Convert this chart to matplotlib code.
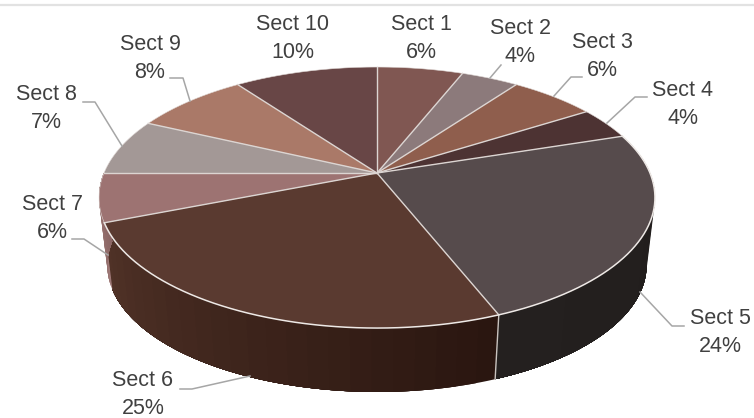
import numpy as np
import matplotlib
matplotlib.use("Agg")
import matplotlib.pyplot as plt
from matplotlib.colors import to_rgb

plt.rcParams['font.family'] = ['Liberation Sans', 'DejaVu Sans']

# chart data, clockwise from 12 o'clock
sectors = ['Sect 1', 'Sect 2', 'Sect 3', 'Sect 4', 'Sect 5',
           'Sect 6', 'Sect 7', 'Sect 8', 'Sect 9', 'Sect 10']
percent = [6, 4, 6, 4, 24, 25, 6, 7, 8, 10]
top_colors = ['#805752', '#8c7a7b', '#8f5e4d', '#4d3333', '#564b4c',
              '#5a3a30', '#9d7372', '#a39896', '#aa7968', '#684646']

# side wall colour per sector, start and end of the sweep
wall_start = {'Sect 5': '#211d1c', 'Sect 6': '#2a1610', 'Sect 7': '#a07a78'}
wall_end = {'Sect 5': '#24201f', 'Sect 6': '#503227', 'Sect 7': '#8a6664'}

# label centres and leader lines (pixels)
label_pos = [(421, 24), (520, 28), (602, 42), (683, 90), (720, 318),
             (143, 380), (52, 204), (46, 95), (150, 44), (293, 24)]
leaders = [None,
           [(501, 65), (490, 78)],
           [(582, 77), (571, 77), (554, 96)],
           [(647, 97), (635, 97), (607, 123)],
           [(684, 326), (672, 326), (640, 292)],
           [(180, 389), (192, 389), (250, 376)],
           [(72, 239), (84, 239), (108, 255)],
           [(83, 102), (95, 102), (122, 146)],
           [(170, 78), (183, 78), (190, 101)],
           None]

# perspective of the pie disc
cx, cy = 377, 173
rx, ry, persp = 273, 125.9, 0.188
wall_scale, wall_cy = 0.97, 241.6


def top_ring(deg):
    t = np.radians(deg)
    d = 1 + persp * np.cos(t)
    return cx + rx * np.sin(t) / d, cy - ry * np.cos(t) / d


def bottom_ring(deg):
    t = np.radians(deg)
    d = 1 + persp * np.cos(t)
    return cx + wall_scale * rx * np.sin(t) / d, wall_cy - wall_scale * ry * np.cos(t) / d


fig = plt.figure(figsize=(7.54, 4.18), dpi=100)
ax = fig.add_axes([0, 0, 1, 1])
ax.set_xlim(0, 754)
ax.set_ylim(418, 0)
ax.axis('off')

# thin rule at the top of the picture
ax.plot([0, 754], [5, 5], color='#e2e2e2', lw=1.6)

edges = np.cumsum([0] + percent) * 3.6

# side wall, each strip runs on to the sector end so no seams show
for i, name in enumerate(sectors):
    if name not in wall_start:
        continue
    c0 = np.array(to_rgb(wall_start[name]))
    c1 = np.array(to_rgb(wall_end[name]))
    angles = np.linspace(edges[i], edges[i + 1], 25)
    for j in range(len(angles) - 1):
        a = np.linspace(angles[j], edges[i + 1], 60)
        xt, yt = top_ring(a)
        xb, yb = bottom_ring(a)
        col = c0 + (c1 - c0) * j / (len(angles) - 2)
        ax.fill(np.r_[xt, xb[::-1]], np.r_[yt, yb[::-1]],
                facecolor=col, edgecolor='none', zorder=2)

# seam on the wall between sect 5 and sect 6
xt, yt = top_ring(edges[5])
xb, yb = bottom_ring(edges[5])
ax.plot([xt, xb], [yt, yb], color='#c9c3bf', lw=1, zorder=3)

# top face
for i, name in enumerate(sectors):
    a = np.linspace(edges[i], edges[i + 1], 80)
    x, y = top_ring(a)
    ax.fill(np.r_[cx, x], np.r_[cy, y], facecolor=top_colors[i],
            edgecolor='none', zorder=4)

for e in edges[:-1]:
    x, y = top_ring(e)
    ax.plot([cx, x], [cy, y], color='#dcd5d2', lw=1, zorder=5)

# light rim round the disc, stronger along the front
a = np.linspace(edges[4], edges[6], 300)
ax.plot(*top_ring(a), color='#eee9e6', lw=1.1, zorder=5)
a = np.linspace(edges[6], 360 + edges[4], 400)
ax.plot(*top_ring(a), color='#e0d9d6', lw=0.4, zorder=5)

# labels with leader lines
for i, name in enumerate(sectors):
    lx, ly = label_pos[i]
    ax.text(lx, ly, name, ha='center', va='center', fontsize=15.5, color='#404040', zorder=6)
    ax.text(lx, ly + 28, f'{percent[i]}%', ha='center', va='center', fontsize=15.5,
            color='#404040', zorder=6)
    if leaders[i] is not None:
        ax.plot(*zip(*leaders[i]), color='#a6a6a6', lw=1.1, zorder=6)

fig.savefig('out.png', dpi=100)
